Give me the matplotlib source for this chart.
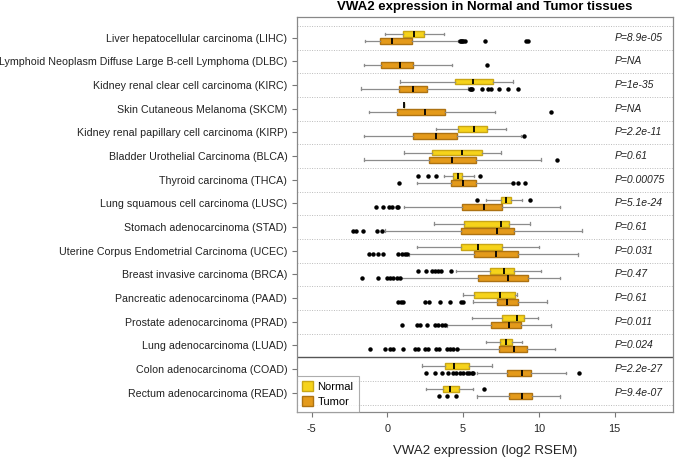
import matplotlib
matplotlib.use("Agg")
import matplotlib.pyplot as plt
from matplotlib.patches import Patch

plt.rcParams['font.family'] = ['Liberation Sans', 'DejaVu Sans']

categories = [
    "Liver hepatocellular carcinoma (LIHC)",
    "Lymphoid Neoplasm Diffuse Large B-cell Lymphoma (DLBC)",
    "Kidney renal clear cell carcinoma (KIRC)",
    "Skin Cutaneous Melanoma (SKCM)",
    "Kidney renal papillary cell carcinoma (KIRP)",
    "Bladder Urothelial Carcinoma (BLCA)",
    "Thyroid carcinoma (THCA)",
    "Lung squamous cell carcinoma (LUSC)",
    "Stomach adenocarcinoma (STAD)",
    "Uterine Corpus Endometrial Carcinoma (UCEC)",
    "Breast invasive carcinoma (BRCA)",
    "Pancreatic adenocarcinoma (PAAD)",
    "Prostate adenocarcinoma (PRAD)",
    "Lung adenocarcinoma (LUAD)",
    "Colon adenocarcinoma (COAD)",
    "Rectum adenocarcinoma (READ)",
]
pvalues = ["P=8.9e-05", "P=NA", "P=1e-35", "P=NA", "P=2.2e-11", "P=0.61",
           "P=0.00075", "P=5.1e-24", "P=0.61", "P=0.031", "P=0.47", "P=0.61",
           "P=0.011", "P=0.024", "P=2.2e-27", "P=9.4e-07"]

# Normal: [whislo, q1, med, q3, whishi]; None = no normal samples
normal_stats = [
    [-0.15, 1.06, 1.76, 2.44, 3.72],
    None,
    [0.86, 4.49, 5.68, 7.00, 8.28],
    [1.08, 1.08, 1.08, 1.08, 1.08],
    [3.21, 4.69, 5.72, 6.56, 7.83],
    [1.10, 2.97, 4.93, 6.27, 7.48],
    [3.74, 4.36, 4.64, 4.95, 5.74],
    [6.51, 7.48, 7.83, 8.17, 8.91],
    [3.08, 5.08, 7.50, 8.01, 9.44],
    [1.98, 4.89, 5.99, 7.55, 10.03],
    [4.53, 6.78, 7.70, 8.38, 10.12],
    [4.97, 5.72, 7.44, 8.43, 8.58],
    [5.57, 7.55, 8.56, 9.04, 9.93],
    [6.51, 7.44, 7.83, 8.21, 8.89],
    [2.31, 3.81, 4.40, 5.41, 6.93],
    [2.55, 3.70, 4.14, 4.71, 5.64],
]
normal_fliers = [
    [], [], [], [], [], [],
    [2.05, 2.72, 3.22, 6.12],
    [5.90, 9.44],
    [],
    [],
    [2.05, 2.53, 2.93, 3.15, 3.37, 3.54, 4.18],
    [],
    [],
    [],
    [],
    [6.40],
]
tumor_stats = [
    [-1.45, -0.46, 0.29, 1.61, 4.69],
    [-1.56, -0.44, 0.84, 1.72, 4.29],
    [-1.76, 0.79, 1.72, 2.60, 5.35],
    [-1.23, 0.62, 2.49, 3.81, 7.13],
    [-1.56, 1.72, 3.19, 4.58, 8.85],
    [-1.52, 2.77, 4.27, 5.83, 10.15],
    [1.94, 4.18, 4.97, 5.83, 8.21],
    [1.10, 4.91, 6.40, 7.59, 11.40],
    [-0.15, 4.89, 7.22, 8.34, 12.83],
    [1.43, 5.72, 7.15, 8.60, 12.57],
    [0.88, 5.96, 7.99, 9.31, 11.40],
    [5.68, 7.22, 7.88, 8.60, 10.52],
    [3.92, 6.84, 8.05, 8.80, 10.83],
    [4.64, 7.39, 8.36, 9.20, 11.07],
    [5.90, 7.92, 8.87, 9.51, 11.80],
    [5.90, 8.01, 8.87, 9.53, 11.40],
]
tumor_fliers = [
    [4.80, 4.87, 4.95, 5.02, 5.10, 6.43, 9.16, 9.31],
    [6.60],
    [5.46, 5.52, 5.61, 6.27, 6.67, 6.84, 7.39, 7.99, 8.60],
    [10.78],
    [9.00],
    [11.22],
    [0.79, 8.32, 8.65, 9.09],
    [-0.75, -0.30, 0.11, 0.29, 0.62, 0.73],
    [-2.28, -2.07, -1.58, -0.70, -0.37],
    [-1.19, -0.92, -0.59, -0.26, 0.73, 0.95, 1.17, 1.32],
    [-1.69, -0.59, -0.04, 0.18, 0.40, 0.62, 0.84],
    [0.73, 0.88, 1.02, 2.49, 2.77, 3.48, 4.14, 4.86, 5.02],
    [0.99, 1.98, 2.16, 2.64, 3.15, 3.37, 3.59, 3.81],
    [-1.14, -0.15, 0.18, 0.40, 1.02, 1.83, 2.05, 2.49, 2.71, 3.21, 3.43,
     3.92, 4.14, 4.36, 4.58],
    [2.55, 3.15, 3.59, 4.03, 4.36, 4.53, 4.80, 5.02, 5.24, 5.41, 5.57,
     5.68, 12.67],
    [3.41, 3.96, 4.51],
]

xticks = [-5, 0, 5, 10, 15]
title = "VWA2 expression in Normal and Tumor tissues"
xlabel = "VWA2 expression (log2 RSEM)"

normal_color = "#F6D31A"
normal_edge = "#C9A616"
tumor_color = "#E49A1A"
tumor_edge = "#AD7212"
whisker_color = "#8C8C8C"


def make_stats(stats, fliers):
    out, pos = [], []
    for i, (s, f) in enumerate(zip(stats, fliers)):
        if s is None:
            continue
        out.append(dict(whislo=s[0], q1=s[1], med=s[2], q3=s[3],
                        whishi=s[4], fliers=f))
        pos.append(i + 1)
    return out, pos


fig = plt.figure(figsize=(6.75, 4.57), dpi=100)
ax = fig.add_axes([0.44, 0.099, 0.557, 0.863])

n = len(categories)
offset = 0.15
width = 0.25

for stats, fliers, col, edge, off in [
        (normal_stats, normal_fliers, normal_color, normal_edge, -offset),
        (tumor_stats, tumor_fliers, tumor_color, tumor_edge, offset)]:
    bstats, pos = make_stats(stats, fliers)
    ax.bxp(bstats, positions=[p + off for p in pos], widths=width,
           vert=False, patch_artist=True, showfliers=True,
           boxprops=dict(facecolor=col, edgecolor=edge, linewidth=1.0),
           medianprops=dict(color="black", linewidth=1.3),
           whiskerprops=dict(color=whisker_color, linewidth=0.9),
           capprops=dict(color=whisker_color, linewidth=0.9),
           capwidths=0.1,
           flierprops=dict(marker="o", markersize=2.2,
                           markerfacecolor="black", markeredgecolor="black"),
           zorder=3)

# grid lines between rows
for i in range(n + 1):
    y = i + 0.5
    if i == 14:
        ax.axhline(y, color="#555555", linewidth=1.0, zorder=2)
    else:
        ax.axhline(y, color="#BBBBBB", linewidth=0.7, linestyle=(0, (1, 1.5)),
                   zorder=1)

for i, p in enumerate(pvalues):
    ax.text(15.0, i + 1, p, fontsize=7.5, style="italic", va="center",
            ha="left", color="#222222")

ax.set_xlim(-5.96, 18.86)
ax.set_ylim(16.8, 0.14)
ax.set_yticks(range(1, n + 1))
ax.set_yticklabels(categories, fontsize=7.65, color="#222222")
ax.set_xticks(xticks)
ax.set_xticklabels([str(t) for t in xticks], fontsize=7.8, color="#222222")
ax.tick_params(axis="both", colors="#777777", labelcolor="#222222",
               length=3.5, width=0.8)
ax.tick_params(axis="x", pad=5)
for s in ax.spines.values():
    s.set_color("#888888")
    s.set_linewidth(0.9)

ax.set_xlabel(xlabel, fontsize=9.5, color="#222222", labelpad=8)
ax.set_title(title, fontsize=9.5, fontweight="bold", pad=5)

handles = [Patch(facecolor=normal_color, edgecolor=normal_edge, label="Normal"),
           Patch(facecolor=tumor_color, edgecolor=tumor_edge, label="Tumor")]
leg = ax.legend(handles=handles, loc="lower left", bbox_to_anchor=(0, 0),
                fontsize=8, frameon=True, fancybox=False, borderaxespad=0,
                handlelength=1.0, handleheight=1.1, handletextpad=0.4,
                borderpad=0.45, labelspacing=0.35)
leg.get_frame().set_edgecolor("#999999")
leg.get_frame().set_linewidth(0.8)
leg.set_zorder(5)

fig.savefig("out.png", dpi=100)
